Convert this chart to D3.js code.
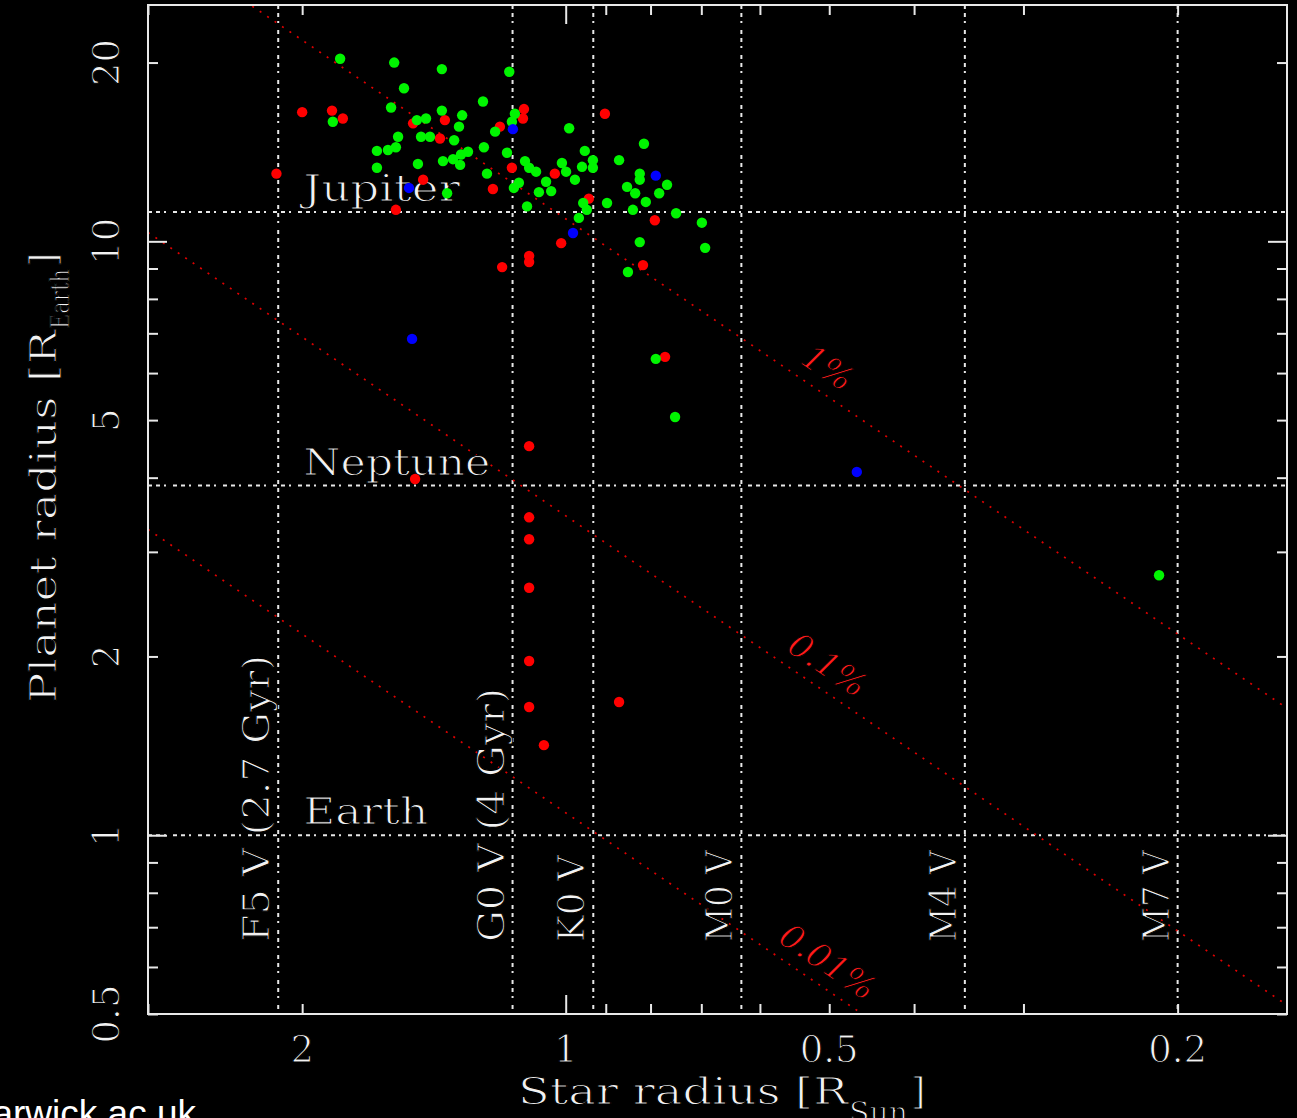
<!DOCTYPE html>
<html>
<head>
<meta charset="utf-8">
<script src="https://cdn.jsdelivr.net/npm/d3@7"></script>
<style>
  html, body { margin: 0; padding: 0; background: #000; }
  svg { display: block; }
</style>
</head>
<body>
<script>
// Transiting planets: host star radius [R_Sun] against planet radius [R_Earth]

const greenPlanets = [
  [1.81,20.3],[1.57,20.0],[1.385,19.5],[1.16,19.3],[1.53,18.1],[1.243,17.2],[1.583,16.8],
  [1.385,16.6],[1.845,15.9],[1.479,16.0],[1.444,16.1],[1.313,16.3],[1.324,15.6],[1.143,16.4],
  [1.152,15.9],[1.204,15.3],[0.991,15.5],[1.554,15.0],[1.463,15.0],[1.429,15.0],[1.341,14.8],
  [1.643,14.2],[1.596,14.25],[1.563,14.4],[1.24,14.4],[1.167,14.1],[0.951,14.2],[0.814,14.6],
  [1.643,13.3],[1.475,13.5],[1.381,13.65],[1.345,13.75],[1.317,14.0],[1.293,14.15],[1.32,13.45],
  [1.23,13.0],[1.113,13.65],[1.101,13.3],[1.081,13.1],[1.01,13.55],[0.999,13.1],[0.976,12.7],
  [0.958,13.35],[0.931,13.7],[0.931,13.3],[0.869,13.7],[0.823,13.0],[0.823,12.7],[0.851,12.35],
  [0.833,12.05],[0.782,12.05],[0.766,12.45],[0.81,11.65],[0.838,11.3],[0.897,11.6],[0.748,11.15],
  [0.699,10.75],[0.693,9.75],[0.823,9.97],[0.849,8.88],[1.366,12.05],[1.131,12.55],[1.146,12.3],
  [1.107,11.45],[1.053,12.6],[1.073,12.1],[1.039,12.15],[0.955,11.6],[0.946,11.3],[0.966,10.95],
  [0.789,6.34],[0.75,5.06],[0.21,2.74]
];

const redPlanets = [
  [2.14,13.0],[2.0,16.5],[1.849,16.6],[1.797,16.1],[1.494,15.8],[1.374,16.0],[1.392,14.9],
  [1.455,12.7],[1.563,11.3],[1.189,15.6],[1.116,16.7],[1.119,16.1],[1.152,13.3],[1.211,12.25],
  [1.029,13.0],[0.941,11.8],[0.902,16.4],[0.791,10.85],[1.012,9.93],[1.101,9.45],[1.101,9.23],
  [1.182,9.05],[0.816,9.12],[0.77,6.39],[1.486,3.98],[1.101,4.52],[1.101,3.43],[1.101,3.15],
  [1.101,2.61],[1.101,1.965],[1.101,1.644],[1.059,1.418],[0.869,1.676]
];

const bluePlanets = [
  [1.51,12.3],[1.149,15.45],[0.981,10.33],[0.789,12.9],[1.498,6.85],[0.465,4.09]
];

// Main-sequence reference stars
const spectralTypes = ["F5 V (2.7 Gyr)", "G0 V (4 Gyr)", "K0 V", "M0 V", "M4 V", "M7 V"];
const spectralRadii = [2.13, 1.15, 0.93, 0.63, 0.35, 0.20];

// Solar-system reference planets
const solarPlanets = ["Jupiter", "Neptune", "Earth"];
const solarPlanetRadii = [11.2, 3.88, 1.0];

// Transit depth contours
const transitDepths = [0.01, 0.001, 0.0001];
const depthLabels = ["1%", "0.1%", "0.01%"];
const depthLabelStarRadius = 0.52;
const SUN_IN_EARTH_RADII = 109.1;

// Axis ticks
const xTickLabels = [2, 1, 0.5, 0.2];
const yTickLabels = [20, 10, 5, 2, 1, 0.5];
const xMinorTicks = [3, 2, 0.9, 0.8, 0.7, 0.6, 0.5, 0.4, 0.3, 0.2];
const xMajorTicks = [1];
const yMinorTicks = [0.5, 0.6, 0.7, 0.8, 0.9, 2, 3, 4, 5, 6, 7, 8, 9, 20];
const yMajorTicks = [1, 10];

// ---- layout & styles ----
const W = 1297, H = 1118;
const plot = { left: 148, right: 1287, top: 5, bottom: 1014 };
const FONT = "'DejaVu Serif', serif";
const TEXT_FILL = "#f2f2f2";
const LINE_COLOR = "#e8e8e8";
const solarLabelWidths = { Jupiter: 157, Neptune: 187, Earth: 125 };
const spectralLabelWidths = { "F5 V (2.7 Gyr)": 287, "G0 V (4 Gyr)": 254, "K0 V": 87, "M0 V": 92, "M4 V": 92, "M7 V": 92 };

const x = d3.scaleLog().domain([3, 0.15]).range([plot.left, plot.right]);
const y = d3.scaleLog().domain([0.5, 25]).range([plot.bottom, plot.top]);

const svg = d3.select("body").append("svg")
  .attr("width", W).attr("height", H)
  .attr("viewBox", `0 0 ${W} ${H}`);

svg.append("rect").attr("width", W).attr("height", H).attr("fill", "#000");

svg.append("defs").append("clipPath").attr("id", "plot-clip")
  .append("rect")
  .attr("x", plot.left).attr("y", plot.top)
  .attr("width", plot.right - plot.left).attr("height", plot.bottom - plot.top);

// thin serif text, in the manner of a plotting-package stroke font
function serifText(sel, size, fill) {
  return sel.attr("font-family", FONT)
    .attr("font-size", size)
    .attr("fill", fill || TEXT_FILL)
    .attr("stroke", "#000")
    .attr("stroke-width", 1.1);
}

// ---- dotted reference grid ----
const grid = svg.append("g")
  .attr("stroke", LINE_COLOR)
  .attr("stroke-width", 2)
  .attr("stroke-dasharray", "4,4,4,4,2,7");

grid.selectAll("line.star").data(spectralRadii).join("line")
  .attr("class", "star")
  .attr("x1", d => x(d)).attr("x2", d => x(d))
  .attr("y1", plot.top).attr("y2", plot.bottom);

grid.selectAll("line.planet").data(solarPlanetRadii).join("line")
  .attr("class", "planet")
  .attr("x1", plot.left).attr("x2", plot.right)
  .attr("y1", d => y(d)).attr("y2", d => y(d));

// ---- transit depth lines: Rp = Rs * sqrt(depth) ----
const depthRadius = (rs, depth) => SUN_IN_EARTH_RADII * rs * Math.sqrt(depth);
const depthLine = d3.line().x(d => x(d[0])).y(d => y(d[1]));

svg.append("g").attr("clip-path", "url(#plot-clip)")
  .selectAll("path").data(transitDepths).join("path")
  .attr("d", dep => depthLine(x.domain().map(rs => [rs, depthRadius(rs, dep)])))
  .attr("fill", "none")
  .attr("stroke", "#e00000")
  .attr("stroke-width", 1.7)
  .attr("stroke-dasharray", "2,7");

const slopeAngle = Math.atan2(
  y(depthRadius(0.5, 0.01)) - y(depthRadius(1, 0.01)),
  x(0.5) - x(1)) * 180 / Math.PI;

svg.append("g").selectAll("text").data(transitDepths).join("text")
  .attr("transform", dep =>
    `translate(${x(depthLabelStarRadius)},${y(depthRadius(depthLabelStarRadius, dep))}) rotate(${slopeAngle})`)
  .attr("dy", -12)
  .attr("text-anchor", "middle")
  .attr("font-style", "italic")
  .text((d, i) => depthLabels[i])
  .call(serifText, 34, "#ff1a1a")
  .attr("stroke-width", 0.9);

// ---- solar planet labels ----
svg.append("g").selectAll("text").data(solarPlanetRadii).join("text")
  .attr("x", x(2) + 1)
  .attr("y", d => y(d) - 11)
  .attr("textLength", (d, i) => solarLabelWidths[solarPlanets[i]])
  .attr("lengthAdjust", "spacingAndGlyphs")
  .text((d, i) => solarPlanets[i])
  .call(serifText, 37);

// ---- spectral type labels ----
svg.append("g").selectAll("text").data(spectralRadii).join("text")
  .attr("transform", d => `translate(${x(d) - 9},942) rotate(-90)`)
  .attr("textLength", (d, i) => spectralLabelWidths[spectralTypes[i]])
  .attr("lengthAdjust", "spacingAndGlyphs")
  .text((d, i) => spectralTypes[i])
  .call(serifText, 37);

// ---- planets ----
const planetGroups = [
  { data: redPlanets, color: "#ff0000" },
  { data: greenPlanets, color: "#00f500" },
  { data: bluePlanets, color: "#0000ff" }
];
planetGroups.forEach(g => {
  svg.append("g").attr("fill", g.color)
    .selectAll("circle").data(g.data).join("circle")
    .attr("cx", d => x(d[0]))
    .attr("cy", d => y(d[1]))
    .attr("r", 5.2);
});

// ---- axes: inward ticks on all four sides ----
function tickSide(axis, values, len, translate) {
  const g = svg.append("g")
    .attr("transform", translate)
    .call(axis.tickValues(values).tickSize(-len).tickFormat(""));
  g.select(".domain").remove();
  g.selectAll(".tick line").attr("stroke", LINE_COLOR).attr("stroke-width", 2);
}
[[xMinorTicks, 10], [xMajorTicks, 19]].forEach(([vals, len]) => {
  tickSide(d3.axisBottom(x), vals, len, `translate(0,${plot.bottom})`);
  tickSide(d3.axisTop(x), vals, len, `translate(0,${plot.top})`);
});
[[yMinorTicks, 10], [yMajorTicks, 19]].forEach(([vals, len]) => {
  tickSide(d3.axisLeft(y), vals, len, `translate(${plot.left},0)`);
  tickSide(d3.axisRight(y), vals, len, `translate(${plot.right},0)`);
});

// frame
svg.append("rect")
  .attr("x", plot.left).attr("y", plot.top)
  .attr("width", plot.right - plot.left).attr("height", plot.bottom - plot.top)
  .attr("fill", "none").attr("stroke", LINE_COLOR).attr("stroke-width", 2);

// tick labels
svg.append("g").selectAll("text").data(xTickLabels).join("text")
  .attr("x", d => x(d)).attr("y", 1062)
  .attr("text-anchor", "middle")
  .text(d => d)
  .call(serifText, 37);

svg.append("g").selectAll("text").data(yTickLabels).join("text")
  .attr("transform", d => `translate(119,${y(d)}) rotate(-90)`)
  .attr("text-anchor", "middle")
  .text(d => d)
  .call(serifText, 37);

// axis titles
const xTitle = svg.append("g").attr("transform", "translate(518,1104)");
xTitle.append("text").attr("textLength", 330).attr("lengthAdjust", "spacingAndGlyphs")
  .text("Star radius [R").call(serifText, 37);
xTitle.append("text").attr("x", 331).attr("y", 18)
  .attr("textLength", 59).attr("lengthAdjust", "spacingAndGlyphs")
  .text("Sun").call(serifText, 27);
xTitle.append("text").attr("x", 393).text("]").call(serifText, 37);

const yTitle = svg.append("g").attr("transform", "translate(56,703) rotate(-90)");
yTitle.append("text").attr("textLength", 373).attr("lengthAdjust", "spacingAndGlyphs")
  .text("Planet radius [R").call(serifText, 37);
yTitle.append("text").attr("x", 374).attr("y", 13)
  .attr("textLength", 60).attr("lengthAdjust", "spacingAndGlyphs")
  .text("Earth").call(serifText, 26);
yTitle.append("text").attr("x", 436).text("]").call(serifText, 37);

// source credit
svg.append("text")
  .attr("x", 196).attr("y", 1126)
  .attr("text-anchor", "end")
  .attr("font-family", "'Liberation Sans', Arial, sans-serif")
  .attr("font-size", 37)
  .attr("fill", "#ffffff")
  .text("warwick.ac.uk");
</script>
</body>
</html>
